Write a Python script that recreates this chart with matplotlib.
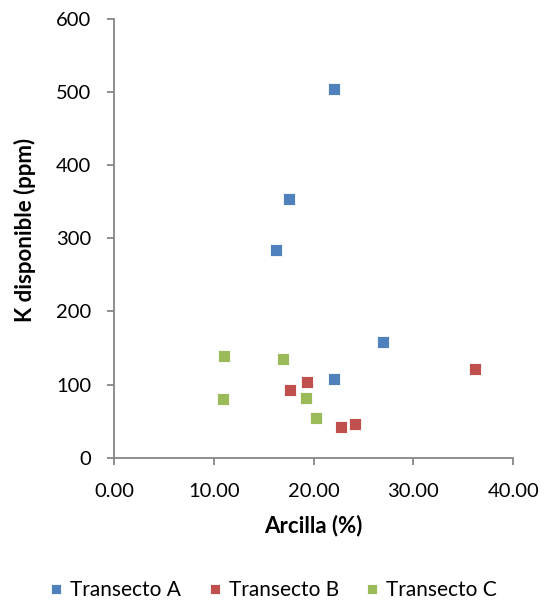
import matplotlib
matplotlib.use("Agg")
from matplotlib import pyplot as plt

plt.rcParams['font.family'] = ['Lato', 'DejaVu Sans']

# Arcilla (%) vs K disponible (ppm)
a_x = [22.0, 17.5, 16.2, 27.0, 22.0]
a_y = [504, 354, 284, 158, 108]
b_x = [36.2, 19.3, 17.6, 24.1, 22.7]
b_y = [122, 104, 93, 46, 42]
c_x = [11.0, 16.9, 10.9, 19.2, 20.2]
c_y = [139, 135, 80, 81, 55]

series = [('Transecto A', a_x, a_y, '#4F81BD'),
          ('Transecto B', b_x, b_y, '#C0504D'),
          ('Transecto C', c_x, c_y, '#9BBB59')]

fig = plt.figure(figsize=(5.46, 6.01), dpi=100)
ax = fig.add_axes([0.2088, 0.2384, 0.7312, 0.73])

for name, xs, ys, col in series:
    ax.plot(xs, ys, 's', color=col, markersize=9.3, markeredgecolor='white',
            markeredgewidth=0.6, label=name, clip_on=False)

ax.set_xlim(0, 40)
ax.set_ylim(0, 600)
ax.set_xticks([0, 10, 20, 30, 40])
ax.set_xticklabels(['%.2f' % v for v in [0, 10, 20, 30, 40]])
ax.set_yticks(range(0, 601, 100))

for s in ['top', 'right']:
    ax.spines[s].set_visible(False)
for s in ['left', 'bottom']:
    ax.spines[s].set_color('#868686')
    ax.spines[s].set_linewidth(1.3)
ax.tick_params(direction='out', length=5, width=1.3, color='#868686',
               labelsize=14.5, labelcolor='black')
ax.tick_params(axis='y', pad=11.5)
ax.tick_params(axis='x', pad=13)

ax.set_xlabel('Arcilla (%)', fontsize=16, fontweight='bold')
ax.set_ylabel('K disponible (ppm)', fontsize=16, fontweight='bold')
ax.xaxis.set_label_coords(0.5, -0.13)
ax.yaxis.set_label_coords(-0.195, 0.52)

fig.legend(loc='center', bbox_to_anchor=(0.499, 0.018), ncol=3, frameon=False,
           fontsize=15, handlelength=0.8, handletextpad=0.27, columnspacing=1.2,
           markerscale=0.8)

fig.savefig('out.png', dpi=100)
